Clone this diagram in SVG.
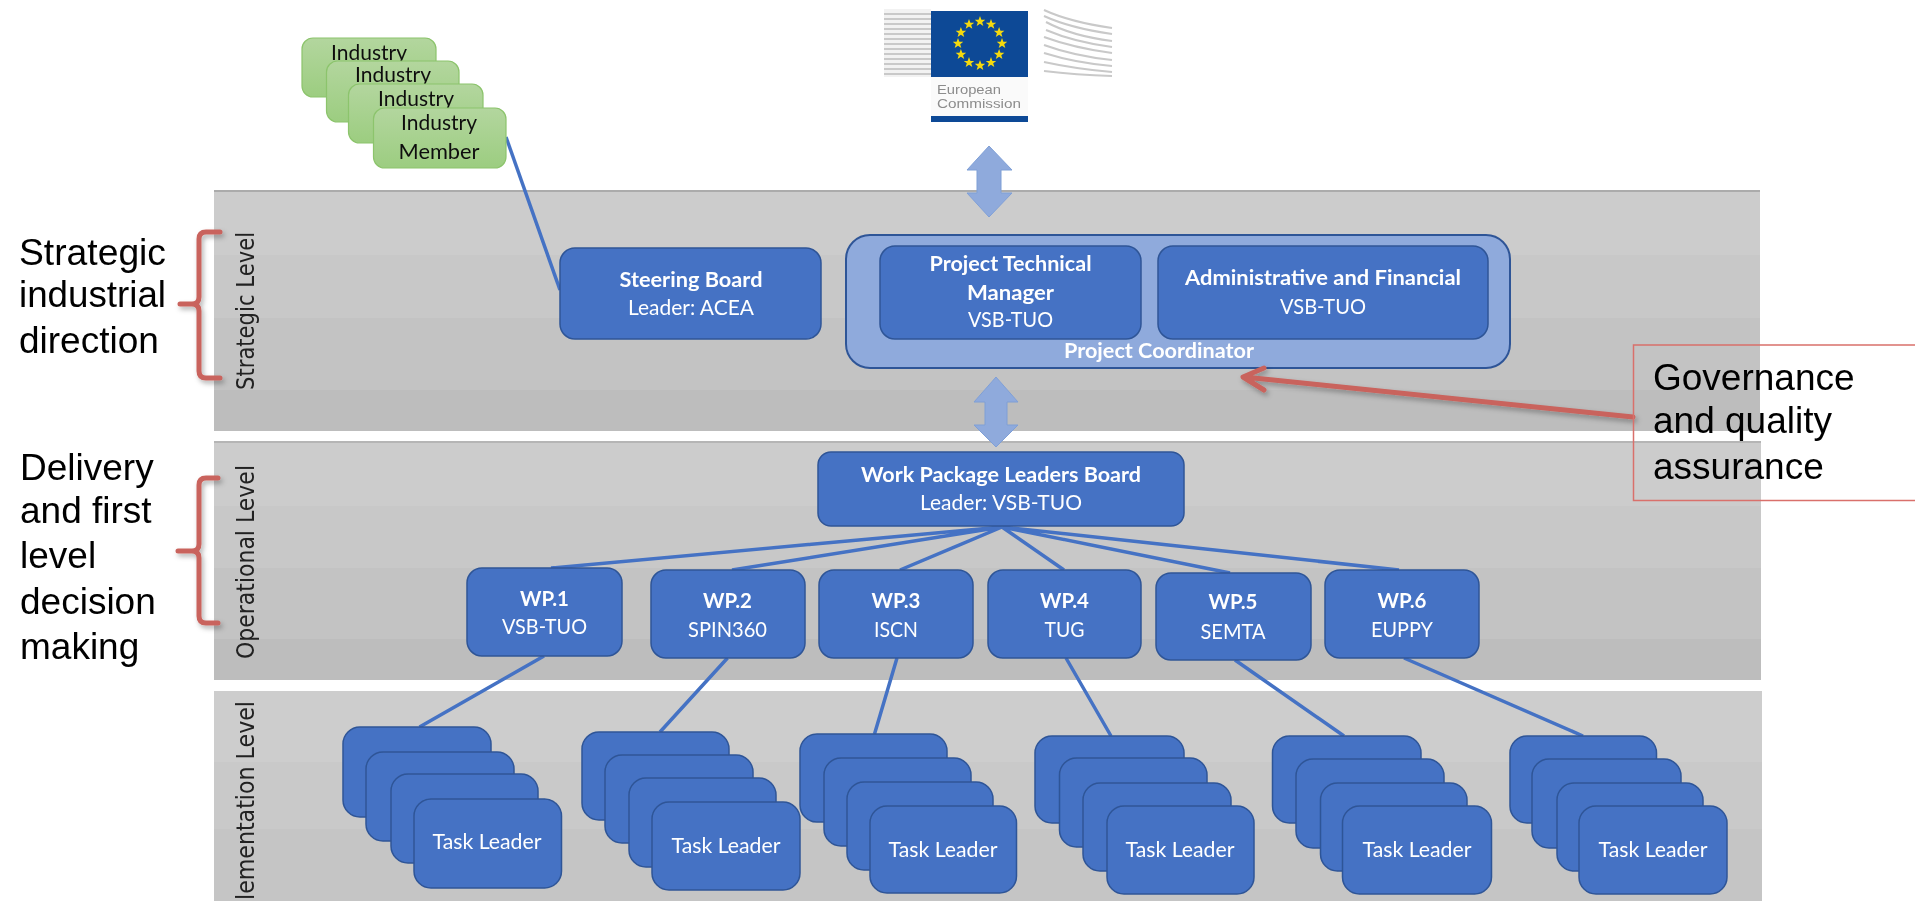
<svg xmlns="http://www.w3.org/2000/svg" xmlns:xlink="http://www.w3.org/1999/xlink" width="1915" height="901" viewBox="0 0 1915 901">
<style>
text{font-family:"Lato","Liberation Sans",sans-serif;text-anchor:middle}
.b{fill:#4472c4;stroke:#2f5597;stroke-width:1.5}
.g{fill:url(#green);stroke:#8cc46c;stroke-width:1.2}
.t{fill:#fff;font-size:21.500px}
.tb{fill:#fff;font-size:21.500px;font-weight:700}
.k{fill:#111;font-size:22px}
.conn{fill:none;stroke:#4472c4;stroke-width:3.500}
.lvl{fill:#222;font-size:25px;font-family:"DejaVu Sans","Liberation Sans",sans-serif;text-anchor:start}
.lab{fill:#000;font-size:37px;font-family:"Liberation Sans",Arial,sans-serif;text-anchor:start}
.red{fill:none;stroke:#c9635d;stroke-width:5;stroke-linecap:round;stroke-linejoin:round}
.arr{fill:#8faadc;stroke:#7f9fd6;stroke-width:1}
.st{fill:#f5d90f}
.bs{fill:none;stroke:#c9c9c9;stroke-width:2}
</style>
<defs>
<linearGradient id="band" x1="0" y1="0" x2="0" y2="1">
<stop offset="0" stop-color="#cccccc"/><stop offset=".27" stop-color="#cccccc"/><stop offset=".27" stop-color="#c8c8c8"/><stop offset=".53" stop-color="#c8c8c8"/><stop offset=".53" stop-color="#c3c3c3"/><stop offset=".83" stop-color="#c3c3c3"/><stop offset=".83" stop-color="#bdbdbd"/><stop offset="1" stop-color="#bdbdbd"/>
</linearGradient>
<linearGradient id="band3" x1="0" y1="0" x2="0" y2="1">
<stop offset="0" stop-color="#cdcdcd"/><stop offset=".31" stop-color="#cdcdcd"/><stop offset=".31" stop-color="#c9c9c9"/><stop offset=".6" stop-color="#c9c9c9"/><stop offset=".6" stop-color="#c5c5c5"/><stop offset="1" stop-color="#c5c5c5"/>
</linearGradient>
<linearGradient id="green" x1="0" y1="0" x2="0" y2="1"><stop offset="0" stop-color="#b3d69e"/><stop offset="1" stop-color="#9ccd80"/></linearGradient>
<filter id="soft" x="-2%" y="-2%" width="104%" height="104%"><feGaussianBlur stdDeviation="0.6"/></filter>
<filter id="soft2" x="-2%" y="-2%" width="104%" height="104%"><feGaussianBlur stdDeviation="0.4"/></filter>
<filter id="shadow" x="-30%" y="-30%" width="160%" height="160%"><feDropShadow dx="2" dy="3" stdDeviation="2.5" flood-color="#000" flood-opacity=".3"/></filter>
<polygon id="star" points="0,-5.5 1.4,-1.7 5.3,-1.7 2.2,0.7 3.3,4.4 0,2.2 -3.3,4.4 -2.2,0.7 -5.3,-1.7 -1.4,-1.7"/>
</defs>
<rect width="1915" height="901" fill="#fff"/>
<g filter="url(#soft)">
<g id="level-bands">
<rect x="214" y="190" width="1546" height="241" fill="url(#band)"/><rect x="214" y="190" width="1546" height="2" fill="#ababab"/>
<rect x="214" y="441" width="1547" height="239" fill="url(#band)"/><rect x="214" y="441" width="1547" height="2" fill="#b5b5b5"/>
<rect x="214" y="691" width="1548" height="230" fill="url(#band3)"/>
<text class="lvl" transform="translate(254,390) rotate(-90)" textLength="158" lengthAdjust="spacingAndGlyphs">Strategic Level</text>
<text class="lvl" transform="translate(254,659) rotate(-90)" textLength="194" lengthAdjust="spacingAndGlyphs">Operational Level</text>
<text class="lvl" transform="translate(254,900) rotate(-90)" textLength="199" lengthAdjust="spacingAndGlyphs">lementation Level</text>
</g>
<g id="eu-logo">
<rect x="884" y="9" width="47" height="68" fill="#f2f2f2"/>
<path class="bs" d="M884 14H931M884 19H931M884 24H931M884 29H931M884 34H931M884 39H931M884 44H931M884 49H931M884 54H931M884 59H931M884 64H931M884 69H931M884 74H931"/>
<path class="bs" d="M1044 10Q1070 22 1112 28M1044 16Q1070 28 1112 34M1046 22Q1072 36 1112 41M1046 30Q1074 42 1112 47M1044 37Q1074 48 1112 53M1044 45Q1074 56 1112 60M1044 53Q1076 63 1112 66M1044 62Q1076 69 1112 72M1044 71Q1076 75 1112 76"/>
<rect x="931" y="11" width="97" height="66" fill="#0b4a96"/>
<g class="st">
<use xlink:href="#star" href="#star" x="980" y="21.5"/><use xlink:href="#star" href="#star" x="991" y="24.4"/><use xlink:href="#star" href="#star" x="999.1" y="32.5"/><use xlink:href="#star" href="#star" x="1002" y="43.5"/><use xlink:href="#star" href="#star" x="999.1" y="54.5"/><use xlink:href="#star" href="#star" x="991" y="62.6"/><use xlink:href="#star" href="#star" x="980" y="65.5"/><use xlink:href="#star" href="#star" x="969" y="62.6"/><use xlink:href="#star" href="#star" x="960.9" y="54.5"/><use xlink:href="#star" href="#star" x="958" y="43.5"/><use xlink:href="#star" href="#star" x="960.9" y="32.5"/><use xlink:href="#star" href="#star" x="969" y="24.4"/>
</g>
<rect x="931" y="77" width="97" height="39" fill="#fafafa"/>
<text x="937" y="94" fill="#8c8c8c" font-size="13" style="text-anchor:start;font-family:'Liberation Sans',sans-serif" textLength="64" lengthAdjust="spacingAndGlyphs">European</text>
<text x="937" y="108" fill="#8c8c8c" font-size="13" style="text-anchor:start;font-family:'Liberation Sans',sans-serif" textLength="84" lengthAdjust="spacingAndGlyphs">Commission</text>
<rect x="931" y="116" width="97" height="6" fill="#0b4a96"/>
</g>
<g id="connectors">
<path class="conn" d="M506 137L560 290"/>
<path class="conn" d="M1002 527L551 568M1002 527L732 570M1002 527L900 570M1002 527L1064 570M1002 527L1230 573M1002 527L1399 570"/>
<path class="conn" d="M544 656L419.5 727M727.5 658L660 732M897 658L874.5 734M1066 658L1111 736M1235 660L1344 736M1404 658L1583 736"/>
<path class="arr" d="M989 146L1012 170H1001V193H1012L989 217L967 193H977V170H967Z"/>
<path class="arr" d="M996 377L1018 402H1007V425H1018L996 447L974 425H985V402H974Z"/>
</g>
<g id="industry-stack">
<g id="industry-1"><rect class="g" x="302" y="38" width="134" height="59" rx="11"/><text class="k" x="369" y="60" textLength="76" lengthAdjust="spacingAndGlyphs">Industry</text></g>
<g id="industry-2"><rect class="g" x="326.500" y="61" width="132.500" height="61" rx="11"/><text class="k" x="393" y="82" textLength="76" lengthAdjust="spacingAndGlyphs">Industry</text></g>
<g id="industry-3"><rect class="g" x="348.500" y="84" width="134.500" height="59" rx="11"/><text class="k" x="416" y="106" textLength="76" lengthAdjust="spacingAndGlyphs">Industry</text></g>
<g id="industry-4"><rect class="g" x="373.500" y="108" width="132.500" height="60" rx="11"/><text class="k" x="439" y="130" textLength="76" lengthAdjust="spacingAndGlyphs">Industry</text><text class="k" x="439" y="159" textLength="81" lengthAdjust="spacingAndGlyphs">Member</text></g>
</g>
<g id="steering-board"><rect class="b" x="560" y="248" width="261" height="91" rx="15"/><text class="tb" x="691" y="287" textLength="143" lengthAdjust="spacingAndGlyphs">Steering Board</text><text class="t" x="691" y="315" textLength="126" lengthAdjust="spacingAndGlyphs">Leader: ACEA</text></g>
<g id="project-coordinator"><rect x="846" y="235" width="664" height="133" rx="24" fill="#8faadc" stroke="#2f5597" stroke-width="2"/><text class="tb" x="1159" y="358" textLength="190" lengthAdjust="spacingAndGlyphs">Project Coordinator</text></g>
<g id="project-technical-manager"><rect class="b" x="880" y="246" width="261" height="93" rx="15"/><text class="tb" x="1010.500" y="271" textLength="162" lengthAdjust="spacingAndGlyphs">Project Technical</text><text class="tb" x="1010.500" y="300" textLength="87" lengthAdjust="spacingAndGlyphs">Manager</text><text class="t" x="1010.500" y="327" textLength="85" lengthAdjust="spacingAndGlyphs">VSB-TUO</text></g>
<g id="administrative-financial"><rect class="b" x="1158" y="246" width="330" height="93" rx="15"/><text class="tb" x="1323" y="285" textLength="276" lengthAdjust="spacingAndGlyphs">Administrative and Financial</text><text class="t" x="1323" y="314" textLength="86" lengthAdjust="spacingAndGlyphs">VSB-TUO</text></g>
<g id="wp-leaders-board"><rect class="b" x="818" y="452" width="366" height="74" rx="13"/><text class="tb" x="1001" y="482" textLength="280" lengthAdjust="spacingAndGlyphs">Work Package Leaders Board</text><text class="t" x="1001" y="510" textLength="162" lengthAdjust="spacingAndGlyphs">Leader: VSB-TUO</text></g>
<g id="wp1"><rect class="b" x="467" y="568" width="155" height="88" rx="15"/><text class="tb" x="544.500" y="606" textLength="49" lengthAdjust="spacingAndGlyphs">WP.1</text><text class="t" x="544.500" y="634" textLength="85" lengthAdjust="spacingAndGlyphs">VSB-TUO</text></g>
<g id="wp2"><rect class="b" x="651" y="570" width="154" height="88" rx="15"/><text class="tb" x="727.500" y="608" textLength="49" lengthAdjust="spacingAndGlyphs">WP.2</text><text class="t" x="727.500" y="637" textLength="79" lengthAdjust="spacingAndGlyphs">SPIN360</text></g>
<g id="wp3"><rect class="b" x="819" y="570" width="154" height="88" rx="15"/><text class="tb" x="896" y="608" textLength="49" lengthAdjust="spacingAndGlyphs">WP.3</text><text class="t" x="896" y="637" textLength="44" lengthAdjust="spacingAndGlyphs">ISCN</text></g>
<g id="wp4"><rect class="b" x="988" y="570" width="153" height="88" rx="15"/><text class="tb" x="1064.500" y="608" textLength="49" lengthAdjust="spacingAndGlyphs">WP.4</text><text class="t" x="1064.500" y="637" textLength="40" lengthAdjust="spacingAndGlyphs">TUG</text></g>
<g id="wp5"><rect class="b" x="1156" y="573" width="155" height="87" rx="15"/><text class="tb" x="1233" y="609" textLength="49" lengthAdjust="spacingAndGlyphs">WP.5</text><text class="t" x="1233" y="639" textLength="65" lengthAdjust="spacingAndGlyphs">SEMTA</text></g>
<g id="wp6"><rect class="b" x="1325" y="570" width="154" height="88" rx="15"/><text class="tb" x="1402" y="608" textLength="49" lengthAdjust="spacingAndGlyphs">WP.6</text><text class="t" x="1402" y="637" textLength="62" lengthAdjust="spacingAndGlyphs">EUPPY</text></g>
<g id="tasks-1"><rect class="b" x="343" y="727" width="148" height="90" rx="17"/><rect class="b" x="366" y="752" width="148" height="89" rx="17"/><rect class="b" x="391" y="774" width="147" height="89" rx="17"/><rect class="b" x="414" y="799" width="147.500" height="89" rx="17"/><text class="t" x="487" y="849" textLength="109" lengthAdjust="spacingAndGlyphs">Task Leader</text></g>
<g id="tasks-2"><rect class="b" x="582" y="732" width="147" height="88" rx="17"/><rect class="b" x="605" y="755" width="148" height="88" rx="17"/><rect class="b" x="629" y="778" width="147" height="89" rx="17"/><rect class="b" x="652" y="802" width="148" height="88" rx="17"/><text class="t" x="726" y="853" textLength="109" lengthAdjust="spacingAndGlyphs">Task Leader</text></g>
<g id="tasks-3"><rect class="b" x="800" y="734" width="147" height="88" rx="17"/><rect class="b" x="824" y="758" width="147" height="88" rx="17"/><rect class="b" x="847" y="782" width="146" height="88" rx="17"/><rect class="b" x="870" y="806" width="146.500" height="87" rx="17"/><text class="t" x="943" y="857" textLength="109" lengthAdjust="spacingAndGlyphs">Task Leader</text></g>
<g id="tasks-4"><rect class="b" x="1035" y="736" width="149" height="87" rx="17"/><rect class="b" x="1059.500" y="758" width="147.500" height="89" rx="17"/><rect class="b" x="1083" y="783" width="148" height="88" rx="17"/><rect class="b" x="1107" y="806" width="147" height="88" rx="17"/><text class="t" x="1180" y="857" textLength="109" lengthAdjust="spacingAndGlyphs">Task Leader</text></g>
<g id="tasks-5"><rect class="b" x="1272.500" y="736" width="148.500" height="87" rx="17"/><rect class="b" x="1296" y="759" width="148" height="89" rx="17"/><rect class="b" x="1320.500" y="783" width="146.500" height="88" rx="17"/><rect class="b" x="1342.500" y="806" width="149" height="88" rx="17"/><text class="t" x="1417" y="857" textLength="109" lengthAdjust="spacingAndGlyphs">Task Leader</text></g>
<g id="tasks-6"><rect class="b" x="1510" y="736" width="146.500" height="87" rx="17"/><rect class="b" x="1532" y="759" width="149" height="89" rx="17"/><rect class="b" x="1557" y="783" width="146" height="88" rx="17"/><rect class="b" x="1579" y="806" width="148" height="88" rx="17"/><text class="t" x="1653" y="857" textLength="109" lengthAdjust="spacingAndGlyphs">Task Leader</text></g>
</g>
<g id="annotations">
<g filter="url(#shadow)">
<path class="red" d="M220 232H206Q199 232 199 239V297Q199 304 192 304H180M192 304Q199 304 199 311V371Q199 378 206 378H220"/>
<path class="red" d="M218 478H206Q199 478 199 485V544Q199 551 192 551H178M192 551Q199 551 199 558V616Q199 623 206 623H218"/>
<path class="red" d="M1633 417L1244 377M1264 368L1243 377L1264 390"/>
</g>
<rect x="1633.500" y="345" width="290" height="155.500" fill="none" stroke="#d9706b" stroke-width="1.500"/>
<g filter="url(#soft2)">
<text class="lab" x="19" y="265" textLength="147" lengthAdjust="spacingAndGlyphs">Strategic</text><text class="lab" x="19" y="307" textLength="147" lengthAdjust="spacingAndGlyphs">industrial</text><text class="lab" x="19" y="353">direction</text>
<text class="lab" x="20" y="480">Delivery</text><text class="lab" x="20" y="523">and first</text><text class="lab" x="20" y="568">level</text><text class="lab" x="20" y="614">decision</text><text class="lab" x="20" y="659">making</text>
<text class="lab" x="1653" y="390">Governance</text><text class="lab" x="1653" y="433">and quality</text><text class="lab" x="1653" y="479">assurance</text>
</g>
</g>
</svg>
